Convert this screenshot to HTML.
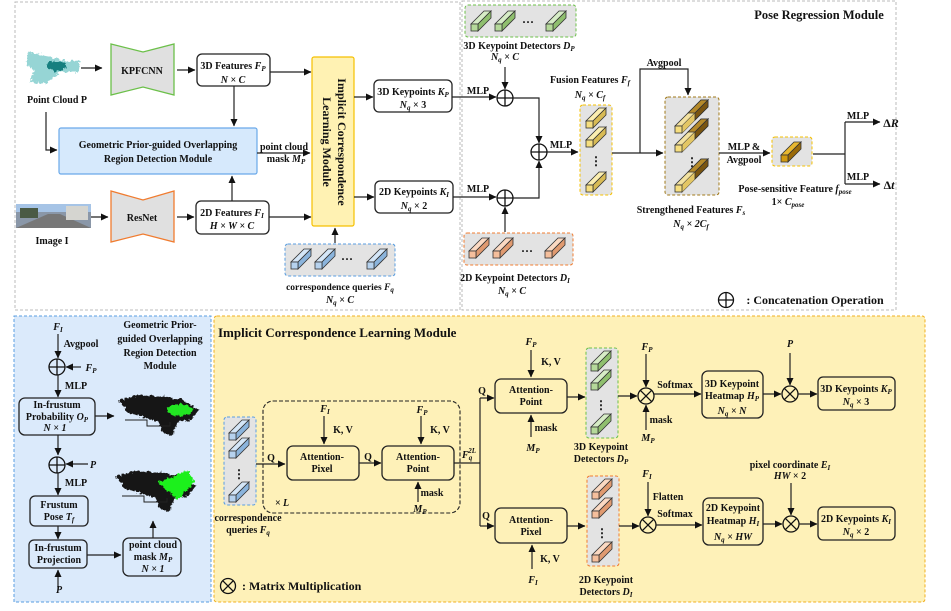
<!DOCTYPE html>
<html><head><meta charset="utf-8"><style>
html,body{margin:0;padding:0;background:#fff}
svg{display:block}
text{font-family:"Liberation Serif",serif;font-weight:bold;font-size:10px;fill:#111;text-anchor:middle}
.i{font-style:italic}
.s{font-size:7px}
.b{fill:none;stroke:#222;stroke-width:1.3}
.ln{fill:none;stroke:#222;stroke-width:1.2}
</style></head><body>
<svg width="951" height="611" viewBox="0 0 951 611" xmlns="http://www.w3.org/2000/svg">
<defs>
<marker id="a" markerWidth="8" markerHeight="8" refX="7" refY="4" orient="auto" markerUnits="userSpaceOnUse"><path d="M0,0.5 L7.5,4 L0,7.5z" fill="#111"/></marker>
<filter id="rag" x="-10%" y="-20%" width="120%" height="140%"><feTurbulence type="fractalNoise" baseFrequency="0.35" numOctaves="2" seed="3"/><feDisplacementMap in="SourceGraphic" scale="6" xChannelSelector="R" yChannelSelector="G"/></filter>
<g id="cg"><path d="M0,-7 L7,-7 L20,-20 L13,-20z" fill="#d6ecc6" stroke="#333" stroke-width="0.8"/><path d="M7,-7 L7,0 L20,-13 L20,-20z" fill="#8fbf6e" stroke="#333" stroke-width="0.8"/><rect x="0" y="-7" width="7" height="7" fill="#b5d99a" stroke="#333" stroke-width="0.8"/></g>
<g id="co"><path d="M0,-7 L7,-7 L20,-20 L13,-20z" fill="#fbd9c2" stroke="#333" stroke-width="0.8"/><path d="M7,-7 L7,0 L20,-13 L20,-20z" fill="#e09a70" stroke="#333" stroke-width="0.8"/><rect x="0" y="-7" width="7" height="7" fill="#f5bf9c" stroke="#333" stroke-width="0.8"/></g>
<g id="cy"><path d="M0,-7 L7,-7 L20,-20 L13,-20z" fill="#fbeeb0" stroke="#333" stroke-width="0.8"/><path d="M7,-7 L7,0 L20,-13 L20,-20z" fill="#d8bb55" stroke="#333" stroke-width="0.8"/><rect x="0" y="-7" width="7" height="7" fill="#f6de7e" stroke="#333" stroke-width="0.8"/></g>
<g id="cb"><path d="M0,-7 L7,-7 L20,-20 L13,-20z" fill="#d4e6f7" stroke="#333" stroke-width="0.8"/><path d="M7,-7 L7,0 L20,-13 L20,-20z" fill="#8bb4dc" stroke="#333" stroke-width="0.8"/><rect x="0" y="-7" width="7" height="7" fill="#b6d2ee" stroke="#333" stroke-width="0.8"/></g>
<g id="cs"><path d="M0,-7 L7,-7 L33,-33 L26,-33z" fill="#f3e2a0" stroke="#333" stroke-width="0.8"/><path d="M7,-7 L7,0 L33,-26 L33,-33z" fill="#8a6418" stroke="#333" stroke-width="0.8"/><path d="M14,-14 L7,-7 L7,0 L20,-13 L20,-20z" fill="#e3c664" stroke="none"/><path d="M13,-20 L20,-20 L33,-33 L26,-33z" fill="#b58a2a" stroke="#333" stroke-width="0.8"/><path d="M20,-20 L20,-13 L33,-26 L33,-33z" fill="#7a5510" stroke="#333" stroke-width="0.8"/><rect x="0" y="-7" width="7" height="7" fill="#f6de7e" stroke="#333" stroke-width="0.8"/></g>
<g id="pc"><path d="M4,8 L25,3 L48,4 L68,8 L84,18 L76,28 L62,30 L58,44 L48,40 L44,30 L30,26 L12,20 Z" fill="#151515" filter="url(#rag)"/><path d="M10,28 L32,28 L32,34 L55,34 L55,30" fill="none" stroke="#222" stroke-width="1"/></g>
</defs>

<!-- panels -->
<rect x="15" y="2" width="445" height="308" fill="none" stroke="#bbb" stroke-dasharray="3,2"/>
<rect x="462" y="1" width="434" height="309" fill="none" stroke="#bbb" stroke-dasharray="3,2"/>
<rect x="14" y="316" width="197" height="286" fill="#dbeafb" stroke="#5a9ee0" stroke-dasharray="3,2"/>
<rect x="214" y="316" width="711" height="286" fill="#fef1b8" stroke="#f0b020" stroke-dasharray="3,2" rx="3"/>

<!-- top-left -->
<g>
<g filter="url(#rag)"><path d="M28,52 L48,56 L62,60 L80,62 L78,72 L60,72 L46,84 L30,82 L34,70 L26,64z" fill="#7ccaca" opacity="0.8"/><ellipse cx="56" cy="66" rx="10" ry="5" fill="#157f7f"/></g>
<text x="57" y="103">Point Cloud P</text>
<line class="ln" x1="81" y1="68" x2="102" y2="68" marker-end="url(#a)"/>
<path d="M111,44 L143,52 L174,44 L174,95 L143,87 L111,95z" fill="#e0e0e0" stroke="#6cc04a" stroke-width="1.3"/>
<text x="142" y="74">KPFCNN</text>
<line class="ln" x1="177" y1="70" x2="195" y2="70" marker-end="url(#a)"/>
<rect class="b" x="197" y="54" width="73" height="32" rx="5" fill="#fff"/>
<text x="233" y="69">3D Features <tspan class="i">F</tspan><tspan class="s i" dy="2">P</tspan></text>
<text x="233" y="83" class="i">N × C</text>
<line class="ln" x1="270" y1="72" x2="311" y2="72" marker-end="url(#a)"/>
<line class="ln" x1="234" y1="86" x2="234" y2="126" marker-end="url(#a)"/>
<rect x="59" y="128" width="198" height="46" rx="2" fill="#d6e9fc" stroke="#6aa9e9" stroke-width="1.2"/>
<text x="158" y="148">Geometric  Prior-guided Overlapping</text>
<text x="158" y="162">Region Detection Module</text>
<path class="ln" d="M46,112 L46,150 L57,150" marker-end="url(#a)"/>
<text x="284" y="150">point cloud</text>
<text x="286" y="162">mask <tspan class="i">M</tspan><tspan class="s i" dy="2">P</tspan></text>
<line class="ln" x1="257" y1="153" x2="310" y2="153" marker-end="url(#a)"/>
<rect x="312" y="57" width="42" height="169" fill="#fff2b3" stroke="#f5c000" stroke-width="1.2" rx="2"/>
<text transform="translate(338,142) rotate(90)" style="font-size:12px">Implicit Correspondence</text>
<text transform="translate(323,142) rotate(90)" style="font-size:12px">Learning Module</text>
<rect x="16" y="204" width="75" height="24" fill="#8a97a8"/><rect x="16" y="204" width="75" height="8" fill="#a6c4e6"/><path d="M16,228 L48,214 L60,214 L91,228z" fill="#777"/><rect x="20" y="208" width="18" height="10" fill="#4a5a44"/><rect x="66" y="206" width="22" height="14" fill="#d5d5d0"/>
<text x="52" y="244">Image I</text>
<line class="ln" x1="91" y1="217" x2="108" y2="217" marker-end="url(#a)"/>
<path d="M111,191 L143,200 L174,191 L174,242 L143,234 L111,242z" fill="#e0e0e0" stroke="#f07c30" stroke-width="1.3"/>
<text x="142" y="221">ResNet</text>
<line class="ln" x1="177" y1="217" x2="194" y2="217" marker-end="url(#a)"/>
<rect class="b" x="196" y="201" width="73" height="33" rx="5" fill="#fff"/>
<text x="232" y="216">2D Features <tspan class="i">F</tspan><tspan class="s i" dy="2">I</tspan></text>
<text x="232" y="229" class="i">H × W × C</text>
<line class="ln" x1="232" y1="201" x2="232" y2="176" marker-end="url(#a)"/>
<line class="ln" x1="269" y1="217" x2="311" y2="217" marker-end="url(#a)"/>
<line class="ln" x1="354" y1="97" x2="373" y2="97" marker-end="url(#a)"/>
<rect class="b" x="374" y="80" width="78" height="32" rx="5" fill="#fff"/>
<text x="413" y="95">3D Keypoints <tspan class="i">K</tspan><tspan class="s i" dy="2">P</tspan></text>
<text x="413" y="108"><tspan class="i">N</tspan><tspan class="s i" dy="2">q</tspan><tspan dy="-2"> × 3</tspan></text>
<line class="ln" x1="354" y1="197" x2="374" y2="197" marker-end="url(#a)"/>
<rect class="b" x="375" y="181" width="78" height="32" rx="5" fill="#fff"/>
<text x="414" y="195">2D Keypoints <tspan class="i">K</tspan><tspan class="s i" dy="2">I</tspan></text>
<text x="414" y="209"><tspan class="i">N</tspan><tspan class="s i" dy="2">q</tspan><tspan dy="-2"> × 2</tspan></text>
<rect x="285" y="244" width="110" height="32" fill="#e3e3e3" stroke="#5a9ee0" stroke-dasharray="3,2" rx="3"/>
<use href="#cb" x="291" y="269"/><use href="#cb" x="315" y="269"/><text x="347" y="263" style="font-size:12px">···</text><use href="#cb" x="367" y="269"/>
<line class="ln" x1="335" y1="243" x2="335" y2="228" marker-end="url(#a)"/>
<text x="340" y="290" style="font-size:9.5px">correspondence  queries <tspan class="i">F</tspan><tspan class="s i" dy="2">q</tspan></text>
<text x="340" y="303"><tspan class="i">N</tspan><tspan class="s i" dy="2">q</tspan><tspan dy="-2" class="i"> × C</tspan></text>
</g>

<!-- top-right -->
<g>
<text x="819" y="19" style="font-size:12.5px">Pose Regression Module</text>
<rect x="465" y="5" width="111" height="32" fill="#e3e3e3" stroke="#6cc04a" stroke-dasharray="3,2" rx="3"/>
<use href="#cg" x="471" y="31"/><use href="#cg" x="495" y="31"/><text x="528" y="26" style="font-size:12px">···</text><use href="#cg" x="546" y="31"/>
<text x="519" y="49">3D Keypoint Detectors <tspan class="i">D</tspan><tspan class="s i" dy="2">P</tspan></text>
<text x="505" y="60"><tspan class="i">N</tspan><tspan class="s i" dy="2">q</tspan><tspan dy="-2" class="i"> × C</tspan></text>
<line class="ln" x1="505" y1="67" x2="505" y2="89" marker-end="url(#a)"/>
<line class="ln" x1="452" y1="97" x2="496" y2="97" marker-end="url(#a)"/>
<text x="478" y="94">MLP</text>
<circle cx="505" cy="98" r="8" fill="none" stroke="#111" stroke-width="1.3"/><path d="M497,98 H513 M505,90 V106" stroke="#111" stroke-width="1.3"/>
<line class="ln" x1="453" y1="197" x2="496" y2="197" marker-end="url(#a)"/>
<text x="478" y="192">MLP</text>
<circle cx="505" cy="198" r="8" fill="none" stroke="#111" stroke-width="1.3"/><path d="M497,198 H513 M505,190 V206" stroke="#111" stroke-width="1.3"/>
<rect x="464" y="233" width="109" height="32" fill="#e3e3e3" stroke="#f07c30" stroke-dasharray="3,2" rx="3"/>
<use href="#co" x="469" y="258"/><use href="#co" x="493" y="258"/><text x="527" y="255" style="font-size:12px">···</text><use href="#co" x="545" y="258"/>
<line class="ln" x1="505" y1="232" x2="505" y2="207" marker-end="url(#a)"/>
<text x="515" y="281">2D Keypoint Detectors <tspan class="i">D</tspan><tspan class="s i" dy="2">I</tspan></text>
<text x="512" y="294"><tspan class="i">N</tspan><tspan class="s i" dy="2">q</tspan><tspan dy="-2" class="i"> × C</tspan></text>
<path class="ln" d="M513,98 L539,98 L539,143" marker-end="url(#a)"/>
<path class="ln" d="M513,198 L539,198 L539,161" marker-end="url(#a)"/>
<circle cx="539" cy="152" r="8" fill="none" stroke="#111" stroke-width="1.3"/><path d="M531,152 H547 M539,144 V160" stroke="#111" stroke-width="1.3"/>
<text x="561" y="148">MLP</text>
<line class="ln" x1="547" y1="152" x2="578" y2="152" marker-end="url(#a)"/>
<text x="590" y="83">Fusion Features <tspan class="i">F</tspan><tspan class="s i" dy="2">f</tspan></text>
<text x="590" y="98"><tspan class="i">N</tspan><tspan class="s i" dy="2">q</tspan><tspan dy="-2" class="i"> × C</tspan><tspan class="s i" dy="2">f</tspan></text>
<rect x="580" y="105" width="32" height="90" fill="#e3e3e3" stroke="#f5c000" stroke-dasharray="3,2" rx="3"/>
<use href="#cy" x="586" y="128"/><use href="#cy" x="586" y="147"/><text x="596" y="165" style="font-size:12px">⋮</text><use href="#cy" x="586" y="192"/>
<line class="ln" x1="612" y1="153" x2="663" y2="153" marker-end="url(#a)"/>
<path class="ln" d="M640,153 L640,69 L688,69 L688,95" marker-end="url(#a)"/>
<text x="664" y="66">Avgpool</text>
<rect x="665" y="97" width="54" height="98" fill="#e3e3e3" stroke="#a07818" stroke-dasharray="3,2" rx="3"/>
<use href="#cs" x="675" y="133"/><use href="#cs" x="675" y="152"/><text x="692" y="166" style="font-size:12px">⋮</text><use href="#cs" x="675" y="192"/>
<text x="691" y="213">Strengthened Features <tspan class="i">F</tspan><tspan class="s i" dy="2">s</tspan></text>
<text x="691" y="227"><tspan class="i">N</tspan><tspan class="s i" dy="2">q</tspan><tspan dy="-2" class="i"> × 2C</tspan><tspan class="s i" dy="2">f</tspan></text>
<text x="744" y="150">MLP &amp;</text><text x="744" y="163">Avgpool</text>
<line class="ln" x1="719" y1="153" x2="770" y2="153" marker-end="url(#a)"/>
<rect x="772" y="137" width="40" height="29" fill="#e3e3e3" stroke="#f5c000" stroke-dasharray="3,2" rx="3"/>
<g transform="translate(781,162)"><path d="M0,-7 L7,-7 L20,-20 L13,-20z" fill="#e8b830" stroke="#333" stroke-width="0.8"/><path d="M7,-7 L7,0 L20,-13 L20,-20z" fill="#9a6a08" stroke="#333" stroke-width="0.8"/><rect x="0" y="-7" width="7" height="7" fill="#d29a10" stroke="#333" stroke-width="0.8"/></g>
<text x="795" y="192">Pose-sensitive Feature <tspan class="i">f</tspan><tspan class="s i" dy="2">pose</tspan></text>
<text x="788" y="205">1× <tspan class="i">C</tspan><tspan class="s i" dy="2">pose</tspan></text>
<path class="ln" d="M813,154 L845,154 M845,122 L845,184"/>
<line class="ln" x1="845" y1="122" x2="880" y2="122" marker-end="url(#a)"/>
<line class="ln" x1="845" y1="184" x2="880" y2="184" marker-end="url(#a)"/>
<text x="858" y="119">MLP</text><text x="858" y="180">MLP</text>
<text x="891" y="127" style="font-size:12px">Δ<tspan class="i">R</tspan></text>
<text x="889" y="189" style="font-size:12px">Δ<tspan class="i">t</tspan></text>
<circle cx="726" cy="300" r="7.5" fill="none" stroke="#111" stroke-width="1.3"/><path d="M718.5,300 H733.5 M726,292.5 V307.5" stroke="#111" stroke-width="1.3"/>
<text x="815" y="304" style="font-size:12px">: Concatenation Operation</text>
</g>

<!-- bottom-left -->
<g>
<text x="160" y="328">Geometric Prior-</text>
<text x="160" y="342">guided Overlapping</text>
<text x="160" y="356">Region Detection</text>
<text x="160" y="369">Module</text>
<text x="58" y="330" class="i">F<tspan class="s" dy="2">I</tspan></text>
<line class="ln" x1="58" y1="334" x2="58" y2="358" marker-end="url(#a)"/>
<text x="81" y="347">Avgpool</text>
<circle cx="57" cy="367" r="8" fill="none" stroke="#111" stroke-width="1.3"/><path d="M49,367 H65 M57,359 V375" stroke="#111" stroke-width="1.3"/>
<line class="ln" x1="81" y1="367" x2="66" y2="367" marker-end="url(#a)"/>
<text x="91" y="371" class="i">F<tspan class="s" dy="2">P</tspan></text>
<text x="76" y="389">MLP</text>
<line class="ln" x1="58" y1="375" x2="58" y2="397" marker-end="url(#a)"/>
<rect class="b" x="19" y="398" width="76" height="37" rx="6" fill="#dbeafb"/>
<text x="57" y="408">In-frustum</text>
<text x="57" y="420">Probability <tspan class="i">O</tspan><tspan class="s i" dy="2">P</tspan></text>
<text x="55" y="431" class="i">N × 1</text>
<line class="ln" x1="95" y1="416" x2="114" y2="416" marker-end="url(#a)"/>
<use href="#pc" x="115" y="392"/>
<ellipse cx="180" cy="410" rx="13" ry="6" fill="#22e622" filter="url(#rag)"/>
<line class="ln" x1="58" y1="435" x2="58" y2="455" marker-end="url(#a)"/>
<circle cx="57" cy="465" r="8" fill="none" stroke="#111" stroke-width="1.3"/><path d="M49,465 H65 M57,457 V473" stroke="#111" stroke-width="1.3"/>
<line class="ln" x1="88" y1="464" x2="66" y2="464" marker-end="url(#a)"/>
<text x="93" y="468" class="i">P</text>
<text x="76" y="486">MLP</text>
<line class="ln" x1="58" y1="473" x2="58" y2="495" marker-end="url(#a)"/>
<rect class="b" x="30" y="496" width="58" height="30" rx="5" fill="#dbeafb"/>
<text x="59" y="508">Frustum</text>
<text x="59" y="520">Pose <tspan class="i">T</tspan><tspan class="s i" dy="2">f</tspan></text>
<line class="ln" x1="58" y1="526" x2="58" y2="539" marker-end="url(#a)"/>
<rect class="b" x="29" y="540" width="58" height="28" rx="5" fill="#dbeafb"/>
<text x="58" y="551">In-frustum</text>
<text x="59" y="563">Projection</text>
<line class="ln" x1="58" y1="590" x2="58" y2="570" marker-end="url(#a)"/>
<text x="59" y="593" class="i">P</text>
<line class="ln" x1="87" y1="555" x2="121" y2="555" marker-end="url(#a)"/>
<rect class="b" x="123" y="538" width="58" height="38" rx="6" fill="#dbeafb"/>
<text x="153" y="548">point cloud</text>
<text x="153" y="560">mask <tspan class="i">M</tspan><tspan class="s i" dy="2">P</tspan></text>
<text x="153" y="572" class="i">N × 1</text>
<line class="ln" x1="153" y1="538" x2="153" y2="521" marker-end="url(#a)"/>
<use href="#pc" x="112" y="468"/>
<path d="M158,483 L188,470 L195,482 L178,500z" fill="#1ff01f" filter="url(#rag)"/>
</g>

<!-- bottom-right -->
<g>
<text x="218" y="337" style="font-size:13px;text-anchor:start">Implicit Correspondence Learning Module</text>
<rect x="224" y="417" width="32" height="88" fill="#e3e3e3" stroke="#5a9ee0" stroke-dasharray="3,2" rx="3"/>
<use href="#cb" x="229" y="440"/><use href="#cb" x="229" y="458"/><text x="239" y="478" style="font-size:12px">⋮</text><use href="#cb" x="229" y="502"/>
<text x="248" y="521">correspondence</text>
<text x="248" y="533">queries <tspan class="i">F</tspan><tspan class="s i" dy="2">q</tspan></text>
<rect x="263" y="401" width="197" height="112" rx="10" fill="none" stroke="#222" stroke-dasharray="4,2" stroke-width="1.1"/>
<line class="ln" x1="256" y1="464" x2="285" y2="464" marker-end="url(#a)"/>
<text x="271" y="461">Q</text>
<rect class="b" x="287" y="446" width="72" height="34" rx="6" fill="#e3e3e3"/>
<text x="322" y="460">Attention-</text><text x="322" y="472">Pixel</text>
<text x="325" y="412" class="i">F<tspan class="s" dy="2">I</tspan></text>
<line class="ln" x1="324" y1="416" x2="324" y2="444" marker-end="url(#a)"/>
<text x="343" y="433">K, V</text>
<line class="ln" x1="359" y1="463" x2="381" y2="463" marker-end="url(#a)"/>
<text x="368" y="460">Q</text>
<rect class="b" x="382" y="446" width="72" height="34" rx="6" fill="#e3e3e3"/>
<text x="418" y="460">Attention-</text><text x="418" y="472">Point</text>
<text x="422" y="413" class="i">F<tspan class="s" dy="2">P</tspan></text>
<line class="ln" x1="421" y1="416" x2="421" y2="444" marker-end="url(#a)"/>
<text x="440" y="433">K, V</text>
<line class="ln" x1="418" y1="502" x2="418" y2="482" marker-end="url(#a)"/>
<text x="432" y="496">mask</text>
<text x="420" y="512" class="i">M<tspan class="s" dy="2">P</tspan></text>
<text x="282" y="506" class="i">× L</text>
<text x="469" y="458" class="i">F<tspan class="s" dy="2">q</tspan><tspan class="s" dx="-4" dy="-7">2L</tspan></text>
<path class="ln" d="M454,463 L480,463 M480,398 L480,526"/>
<line class="ln" x1="480" y1="398" x2="494" y2="398" marker-end="url(#a)"/>
<line class="ln" x1="480" y1="526" x2="494" y2="526" marker-end="url(#a)"/>
<text x="482" y="394">Q</text><text x="486" y="519">Q</text>
<rect class="b" x="495" y="379" width="72" height="34" rx="6" fill="#e3e3e3"/>
<text x="531" y="393">Attention-</text><text x="531" y="405">Point</text>
<text x="531" y="345" class="i">F<tspan class="s" dy="2">P</tspan></text>
<line class="ln" x1="531" y1="350" x2="531" y2="377" marker-end="url(#a)"/>
<text x="551" y="365">K, V</text>
<line class="ln" x1="531" y1="437" x2="531" y2="415" marker-end="url(#a)"/>
<text x="546" y="431">mask</text>
<text x="533" y="451" class="i">M<tspan class="s" dy="2">P</tspan></text>
<line class="ln" x1="567" y1="397" x2="585" y2="397" marker-end="url(#a)"/>
<rect x="586" y="348" width="32" height="90" fill="#e3e3e3" stroke="#6cc04a" stroke-dasharray="3,2" rx="3"/>
<use href="#cg" x="591" y="371"/><use href="#cg" x="591" y="390"/><text x="601" y="409" style="font-size:12px">⋮</text><use href="#cg" x="591" y="434"/>
<text x="601" y="450">3D Keypoint</text>
<text x="601" y="462">Detectors <tspan class="i">D</tspan><tspan class="s i" dy="2">P</tspan></text>
<line class="ln" x1="618" y1="396" x2="637" y2="396" marker-end="url(#a)"/>
<circle cx="646" cy="396" r="8" fill="none" stroke="#111" stroke-width="1.3"/><path d="M640.3,390.3 L651.7,401.7 M651.7,390.3 L640.3,401.7" stroke="#111" stroke-width="1.3"/>
<text x="647" y="350" class="i">F<tspan class="s" dy="2">P</tspan></text>
<line class="ln" x1="646" y1="354" x2="646" y2="387" marker-end="url(#a)"/>
<line class="ln" x1="646" y1="430" x2="646" y2="405" marker-end="url(#a)"/>
<text x="661" y="423">mask</text>
<text x="648" y="441" class="i">M<tspan class="s" dy="2">P</tspan></text>
<text x="675" y="388">Softmax</text>
<line class="ln" x1="654" y1="394" x2="701" y2="394" marker-end="url(#a)"/>
<rect class="b" x="702" y="371" width="61" height="47" rx="6" fill="#fef1b8"/>
<text x="732" y="387">3D Keypoint</text>
<text x="732" y="399">Heatmap <tspan class="i">H</tspan><tspan class="s i" dy="2">P</tspan></text>
<text x="732" y="414"><tspan class="i">N</tspan><tspan class="s i" dy="2">q</tspan><tspan dy="-2" class="i"> × N</tspan></text>
<line class="ln" x1="763" y1="394" x2="781" y2="394" marker-end="url(#a)"/>
<circle cx="790" cy="394" r="8" fill="none" stroke="#111" stroke-width="1.3"/><path d="M784.3,388.3 L795.7,399.7 M795.7,388.3 L784.3,399.7" stroke="#111" stroke-width="1.3"/>
<text x="790" y="347" class="i">P</text>
<line class="ln" x1="790" y1="353" x2="790" y2="385" marker-end="url(#a)"/>
<line class="ln" x1="798" y1="394" x2="817" y2="394" marker-end="url(#a)"/>
<rect class="b" x="818" y="377" width="77" height="33" rx="5" fill="#fef1b8"/>
<text x="856" y="392">3D Keypoints <tspan class="i">K</tspan><tspan class="s i" dy="2">P</tspan></text>
<text x="856" y="405"><tspan class="i">N</tspan><tspan class="s i" dy="2">q</tspan><tspan dy="-2"> × 3</tspan></text>
<rect class="b" x="495" y="508" width="72" height="35" rx="6" fill="#e3e3e3"/>
<text x="531" y="523">Attention-</text><text x="531" y="535">Pixel</text>
<line class="ln" x1="532" y1="569" x2="532" y2="545" marker-end="url(#a)"/>
<text x="550" y="562">K, V</text>
<text x="533" y="583" class="i">F<tspan class="s" dy="2">I</tspan></text>
<line class="ln" x1="567" y1="526" x2="585" y2="526" marker-end="url(#a)"/>
<rect x="587" y="476" width="32" height="90" fill="#e3e3e3" stroke="#f07c30" stroke-dasharray="3,2" rx="3"/>
<use href="#co" x="592" y="499"/><use href="#co" x="592" y="518"/><text x="602" y="537" style="font-size:12px">⋮</text><use href="#co" x="592" y="562"/>
<text x="606" y="583">2D Keypoint</text>
<text x="606" y="595">Detectors <tspan class="i">D</tspan><tspan class="s i" dy="2">I</tspan></text>
<line class="ln" x1="619" y1="526" x2="639" y2="526" marker-end="url(#a)"/>
<circle cx="648" cy="525" r="8" fill="none" stroke="#111" stroke-width="1.3"/><path d="M642.3,519.3 L653.7,530.7 M653.7,519.3 L642.3,530.7" stroke="#111" stroke-width="1.3"/>
<text x="647" y="477" class="i">F<tspan class="s" dy="2">I</tspan></text>
<line class="ln" x1="648" y1="482" x2="648" y2="516" marker-end="url(#a)"/>
<text x="668" y="500">Flatten</text>
<text x="675" y="517">Softmax</text>
<line class="ln" x1="656" y1="525" x2="702" y2="525" marker-end="url(#a)"/>
<rect class="b" x="703" y="498" width="60" height="47" rx="6" fill="#fef1b8"/>
<text x="733" y="511">2D Keypoint</text>
<text x="733" y="524">Heatmap <tspan class="i">H</tspan><tspan class="s i" dy="2">I</tspan></text>
<text x="733" y="540"><tspan class="i">N</tspan><tspan class="s i" dy="2">q</tspan><tspan dy="-2" class="i"> × HW</tspan></text>
<line class="ln" x1="763" y1="524" x2="782" y2="524" marker-end="url(#a)"/>
<circle cx="791" cy="524" r="8" fill="none" stroke="#111" stroke-width="1.3"/><path d="M785.3,518.3 L796.7,529.7 M796.7,518.3 L785.3,529.7" stroke="#111" stroke-width="1.3"/>
<text x="790" y="468">pixel coordinate <tspan class="i">E</tspan><tspan class="s i" dy="2">I</tspan></text>
<text x="790" y="479" class="i">HW <tspan style="font-style:normal">× 2</tspan></text>
<line class="ln" x1="791" y1="483" x2="791" y2="515" marker-end="url(#a)"/>
<line class="ln" x1="799" y1="524" x2="817" y2="524" marker-end="url(#a)"/>
<rect class="b" x="818" y="507" width="77" height="33" rx="5" fill="#fef1b8"/>
<text x="856" y="522">2D Keypoints <tspan class="i">K</tspan><tspan class="s i" dy="2">I</tspan></text>
<text x="856" y="535"><tspan class="i">N</tspan><tspan class="s i" dy="2">q</tspan><tspan dy="-2"> × 2</tspan></text>
<circle cx="228" cy="586" r="7.5" fill="none" stroke="#111" stroke-width="1.3"/><path d="M222.7,580.7 L233.3,591.3 M233.3,580.7 L222.7,591.3" stroke="#111" stroke-width="1.3"/>
<text x="242" y="590" style="font-size:12px;text-anchor:start">: Matrix Multiplication</text>
</g>
</svg>
</body></html>
